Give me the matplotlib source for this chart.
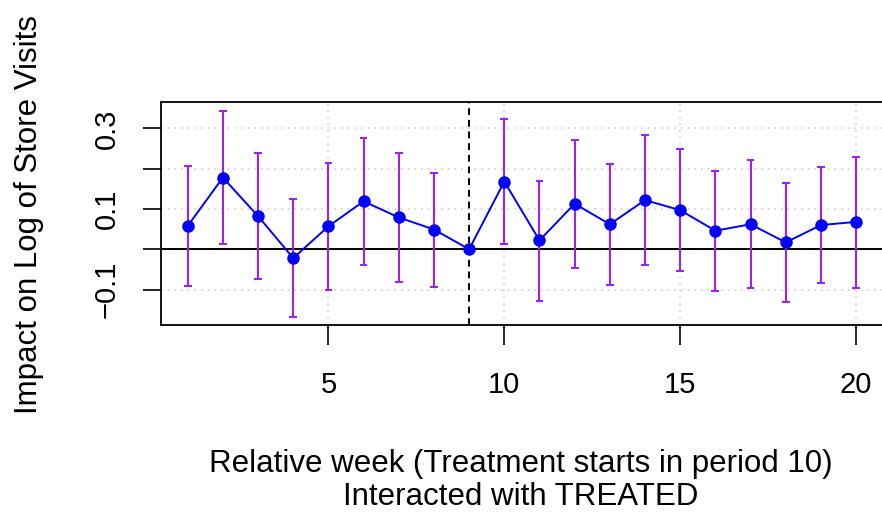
import numpy as np
import matplotlib.pyplot as plt

plt.rcParams['font.family'] = ['Liberation Sans', 'DejaVu Sans']

# relative week and estimated coefficients with 95% bounds (week 9 is the reference)
weeks = np.arange(1, 21)
coef = [0.058, 0.178, 0.082, -0.022, 0.057, 0.119, 0.079, 0.049, 0.0,
        0.168, 0.022, 0.113, 0.062, 0.122, 0.097, 0.046, 0.062, 0.017, 0.060, 0.068]
upper = [0.207, 0.344, 0.239, 0.124, 0.215, 0.276, 0.240, 0.189, 0.0,
         0.323, 0.170, 0.271, 0.211, 0.283, 0.250, 0.193, 0.221, 0.164, 0.204, 0.230]
lower = [-0.091, 0.012, -0.074, -0.168, -0.100, -0.039, -0.082, -0.093, 0.0,
         0.013, -0.128, -0.046, -0.088, -0.039, -0.055, -0.103, -0.097, -0.131, -0.084, -0.096]
yticks = [-0.1, 0.0, 0.1, 0.2, 0.3]
ytick_labels = ['\u22120.1', '', '0.1', '', '0.3']
xticks = [5, 10, 15, 20]
treat_line = 9

coef = np.array(coef)
upper = np.array(upper)
lower = np.array(lower)

W, H = 882, 517
fig = plt.figure(figsize=(W / 100, H / 100), dpi=100)
ax = fig.add_axes([161 / W, 1 - 325 / H, (882.8 - 161) / W, (325 - 102) / H])

for y in yticks:
    ax.axhline(y, color='#cfcfcf', linestyle=(0, (1, 3)), linewidth=1.2, zorder=0)
for x in xticks:
    ax.axvline(x, color='#cfcfcf', linestyle=(0, (1, 3)), linewidth=1.2, zorder=0)

ax.axhline(0, color='black', linewidth=1.4, zorder=1)
ax.axvline(treat_line, color='black', linestyle=(0, (3.5, 2.5)), linewidth=1.4, zorder=1)

# error bars (skip the reference week)
mask = upper != lower
ax.vlines(weeks[mask], lower[mask], upper[mask], color='#A020F0', linewidth=1.5, zorder=2)
cw = 0.11
ax.hlines(upper[mask], weeks[mask] - cw, weeks[mask] + cw, color='#A020F0', linewidth=1.5, zorder=2)
ax.hlines(lower[mask], weeks[mask] - cw, weeks[mask] + cw, color='#A020F0', linewidth=1.5, zorder=2)

ax.plot(weeks, coef, color='blue', linewidth=1.4, marker='o', markersize=8, zorder=3)

ax.set_xlim(0.24, 20.76)
ax.set_ylim(-0.188, 0.3655)
ax.set_xticks(xticks)
ax.set_yticks(yticks)
ax.set_yticklabels(ytick_labels, rotation=90, va='center')
ax.tick_params(axis='both', labelsize=21, width=1.2, direction='out')
ax.tick_params(axis='x', pad=19, length=14.4)
ax.tick_params(axis='y', pad=16, length=13)
for s in ax.spines.values():
    s.set_linewidth(1.3)

fig.text(521 / W, 1 - 472 / H, 'Relative week (Treatment starts in period 10)',
         ha='center', va='baseline', fontsize=22.5)
fig.text(521 / W, 1 - 505 / H, 'Interacted with TREATED',
         ha='center', va='baseline', fontsize=22.5)
fig.text(37 / W, 1 - 214 / H, 'Impact on Log of Store Visits',
         ha='center', va='baseline', rotation=90, rotation_mode='anchor', fontsize=22.5)

fig.savefig('out.png', dpi=100)
